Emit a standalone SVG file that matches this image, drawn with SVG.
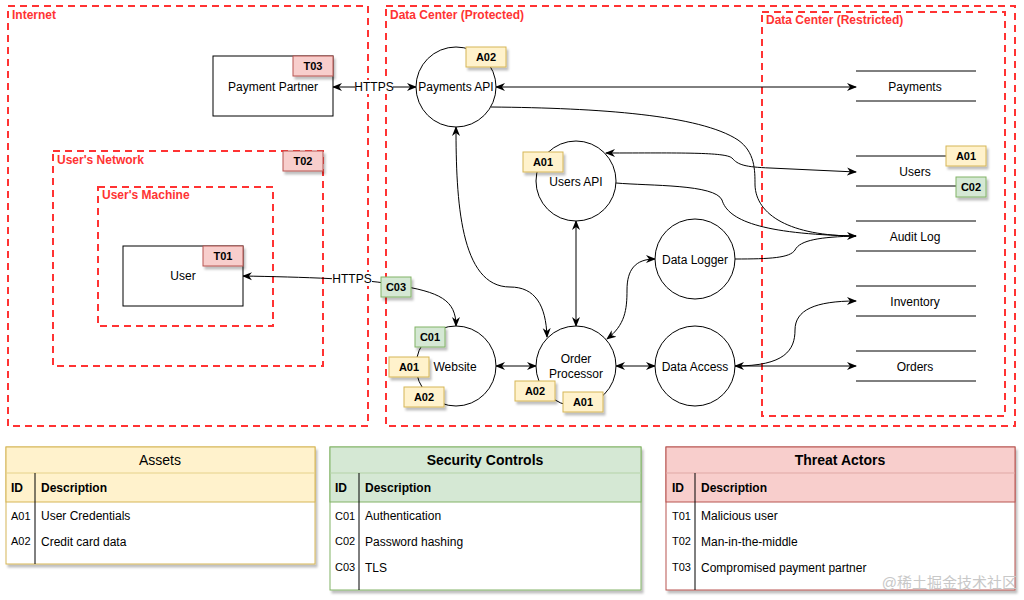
<svg xmlns="http://www.w3.org/2000/svg" width="1024" height="600" viewBox="0 0 1024 600">
<style>
text{font-family:"Liberation Sans",Arial,sans-serif;fill:#000}
.zone{fill:none;stroke:#FF3333;stroke-width:2;stroke-dasharray:7 5}
.zl{font-size:12px;font-weight:bold;fill:#FF3333}
.node{fill:#fff;stroke:#000;stroke-width:1}
.lbl{font-size:12px;text-anchor:middle;dominant-baseline:central}
.tag{stroke-width:1;filter:url(#sh)}
.ta{fill:#fff2cc;stroke:#d6b656}
.tc{fill:#d5e8d4;stroke:#82b366}
.tt{fill:#f8cecc;stroke:#b85450}
.tagt{font-size:11px;font-weight:bold;text-anchor:middle;dominant-baseline:central}
.edge{fill:none;stroke:#000;stroke-width:1;marker-start:url(#arr);marker-end:url(#arr)}
.one{fill:none;stroke:#000;stroke-width:1}
.store{stroke:#000;stroke-width:1}
.th{font-size:14px;text-anchor:middle}
.hd{font-size:12px;font-weight:bold}
.id{font-size:11px}
.ds{font-size:12px}
</style>
<defs>
<marker id="arr" viewBox="0 0 10 10" refX="9" refY="5" markerWidth="10" markerHeight="10" markerUnits="userSpaceOnUse" orient="auto-start-reverse">
<path d="M0,1 L10,5 L0,9 L3,5 z" fill="#000"/>
</marker>
<marker id="arre" viewBox="0 0 10 10" refX="9" refY="5" markerWidth="10" markerHeight="10" markerUnits="userSpaceOnUse" orient="auto">
<path d="M0,1 L10,5 L0,9 L3,5 z" fill="#000"/>
</marker>
<filter id="sh" x="-20%" y="-20%" width="150%" height="160%">
<feDropShadow dx="2" dy="3" stdDeviation="0.8" flood-color="#000" flood-opacity="0.25"/>
</filter>
</defs>
<rect width="1024" height="600" fill="#fff"/>

<g id="zones">
<rect class="zone" x="8" y="6" width="360" height="420"/>
<text class="zl" x="12" y="19">Internet</text>
<rect class="zone" x="386" y="6" width="629" height="420"/>
<text class="zl" x="390" y="19">Data Center (Protected)</text>
<rect class="zone" x="762" y="12" width="243" height="404"/>
<text class="zl" x="766" y="24">Data Center (Restricted)</text>
<rect class="zone" x="53" y="151" width="270" height="215"/>
<text class="zl" x="57" y="164">User's Network</text>
<rect class="zone" x="98" y="187" width="175" height="139"/>
<text class="zl" x="102" y="199">User's Machine</text>
</g>

<g id="connectors">
<path class="edge" d="M333,87 L416,87"/>
<rect x="355" y="80" width="38" height="14" fill="#fff"/>
<text class="lbl" x="374" y="87">HTTPS</text>
<path class="edge" d="M496,87 L856,87"/>
<path class="one" marker-end="url(#arre)" d="M491,107 C600,108 700,115 738,140 C755,152 755,170 755,185 C756,215 790,236 856,236"/>
<path class="edge" d="M606,153 C680,153 725,152 732,158 C738,165 745,167 770,168 L856,172"/>
<path class="one" d="M616,183 C650,186 715,184 722,200 C728,220 760,234 856,236"/>
<path class="one" d="M735,259 C770,259 790,258 795,250 C800,240 820,237 856,236"/>
<path class="edge" d="M456,127 C456,200 460,287 510,287 C535,287 546,305 547,337"/>
<path class="edge" d="M576,221 L576,326"/>
<path class="edge" d="M607,339 C625,325 627,310 627,290 C627,270 635,259 655,259"/>
<path class="edge" d="M496,366 L536,366"/>
<path class="edge" d="M616,366 L655,366"/>
<path class="edge" d="M735,366 L856,366"/>
<path class="one" marker-end="url(#arre)" d="M735,366 C785,366 795,350 795,330 C795,310 815,301 856,301"/>
<path class="edge" d="M243,276 C300,277 370,279 396,285 C440,292 456,300 456,326"/>
<rect x="332" y="272" width="40" height="14" fill="#fff"/>
<text class="lbl" x="352" y="279">HTTPS</text>
</g>

<g id="payment-partner">
<rect class="node" x="213" y="56" width="120" height="60"/>
<text class="lbl" x="273" y="87">Payment Partner</text>
<rect class="tag tt" x="293" y="56" width="40" height="20"/>
<text class="tagt" x="313" y="66">T03</text>
</g>

<g id="users-network-tag">
<rect class="tag tt" x="283" y="151" width="40" height="20"/>
<text class="tagt" x="303" y="161">T02</text>
</g>

<g id="user">
<rect class="node" x="123" y="246" width="120" height="60"/>
<text class="lbl" x="183" y="276">User</text>
<rect class="tag tt" x="203" y="246" width="40" height="20"/>
<text class="tagt" x="223" y="256">T01</text>
</g>

<g id="payments-api">
<circle class="node" cx="456" cy="87" r="40"/>
<text class="lbl" x="456" y="87">Payments API</text>
<rect class="tag ta" x="466" y="47" width="40" height="20"/>
<text class="tagt" x="486" y="57">A02</text>
</g>

<g id="users-api">
<circle class="node" cx="576" cy="181" r="40"/>
<text class="lbl" x="576" y="182">Users API</text>
<rect class="tag ta" x="523" y="152" width="40" height="20"/>
<text class="tagt" x="543" y="162">A01</text>
</g>

<g id="data-logger">
<circle class="node" cx="695" cy="259" r="40"/>
<text class="lbl" x="695" y="260">Data Logger</text>
</g>

<g id="website">
<circle class="node" cx="456" cy="366" r="40"/>
<text class="lbl" x="455" y="367">Website</text>
<rect class="tag tc" x="415" y="327" width="30" height="20"/>
<text class="tagt" x="430" y="337">C01</text>
<rect class="tag ta" x="389" y="357" width="40" height="20"/>
<text class="tagt" x="409" y="367">A01</text>
<rect class="tag ta" x="404" y="387" width="40" height="20"/>
<text class="tagt" x="424" y="397">A02</text>
</g>

<g id="c03-tag">
<rect class="tag tc" x="381" y="277" width="30" height="20"/>
<text class="tagt" x="396" y="287">C03</text>
</g>

<g id="order-processor">
<circle class="node" cx="576" cy="366" r="40"/>
<text class="lbl" x="576" y="359">Order</text>
<text class="lbl" x="576" y="374">Processor</text>
<rect class="tag ta" x="515" y="381" width="40" height="20"/>
<text class="tagt" x="535" y="391">A02</text>
<rect class="tag ta" x="563" y="392" width="40" height="20"/>
<text class="tagt" x="583" y="402">A01</text>
</g>

<g id="data-access">
<circle class="node" cx="695" cy="366" r="40"/>
<text class="lbl" x="695" y="367">Data Access</text>
</g>

<g id="store-payments">
<line class="store" x1="856" y1="71" x2="976" y2="71"/>
<line class="store" x1="856" y1="101" x2="976" y2="101"/>
<text class="lbl" x="915" y="87">Payments</text>
</g>
<g id="store-users">
<line class="store" x1="856" y1="156" x2="976" y2="156"/>
<line class="store" x1="856" y1="186" x2="976" y2="186"/>
<text class="lbl" x="915" y="172">Users</text>
<rect class="tag ta" x="946" y="146" width="40" height="20"/>
<text class="tagt" x="966" y="156">A01</text>
<rect class="tag tc" x="956" y="177" width="30" height="20"/>
<text class="tagt" x="971" y="187">C02</text>
</g>
<g id="store-audit">
<line class="store" x1="856" y1="221" x2="976" y2="221"/>
<line class="store" x1="856" y1="251" x2="976" y2="251"/>
<text class="lbl" x="915" y="237">Audit Log</text>
</g>
<g id="store-inventory">
<line class="store" x1="856" y1="286" x2="976" y2="286"/>
<line class="store" x1="856" y1="316" x2="976" y2="316"/>
<text class="lbl" x="915" y="302">Inventory</text>
</g>
<g id="store-orders">
<line class="store" x1="856" y1="351" x2="976" y2="351"/>
<line class="store" x1="856" y1="381" x2="976" y2="381"/>
<text class="lbl" x="915" y="367">Orders</text>
</g>

<g id="table-assets">
<rect x="6" y="447" width="309" height="117" fill="#fff" stroke="#d6b656" filter="url(#sh)"/>
<rect x="6" y="447" width="309" height="55" fill="#fff2cc" stroke="#d6b656"/>
<line x1="6" y1="473" x2="315" y2="473" stroke="#e6d28a"/>
<line x1="35" y1="473" x2="35" y2="564" stroke="#000"/>
<text class="th" x="160" y="465">Assets</text>
<text class="hd" x="11" y="492">ID</text>
<text class="hd" x="41" y="492">Description</text>
<text class="id" x="11" y="520">A01</text>
<text class="ds" x="41" y="520">User Credentials</text>
<text class="id" x="11" y="545">A02</text>
<text class="ds" x="41" y="546">Credit card data</text>
</g>

<g id="table-controls">
<rect x="330" y="447" width="311" height="143" fill="#fff" stroke="#82b366" filter="url(#sh)"/>
<rect x="330" y="447" width="311" height="55" fill="#d5e8d4" stroke="#82b366"/>
<line x1="330" y1="473" x2="641" y2="473" stroke="#b5d3a8"/>
<line x1="359" y1="473" x2="359" y2="590" stroke="#000"/>
<text class="th" x="485" y="465" font-weight="bold">Security Controls</text>
<text class="hd" x="335" y="492">ID</text>
<text class="hd" x="365" y="492">Description</text>
<text class="id" x="335" y="520">C01</text>
<text class="ds" x="365" y="520">Authentication</text>
<text class="id" x="335" y="545">C02</text>
<text class="ds" x="365" y="546">Password hashing</text>
<text class="id" x="335" y="571">C03</text>
<text class="ds" x="365" y="572">TLS</text>
</g>

<g id="table-threats">
<rect x="666" y="447" width="349" height="143" fill="#fff" stroke="#b85450" filter="url(#sh)"/>
<rect x="666" y="447" width="349" height="55" fill="#f8cecc" stroke="#b85450"/>
<line x1="666" y1="473" x2="1015" y2="473" stroke="#e0a9a6"/>
<line x1="695" y1="473" x2="695" y2="590" stroke="#000"/>
<text class="th" x="840" y="465" font-weight="bold">Threat Actors</text>
<text class="hd" x="672" y="492">ID</text>
<text class="hd" x="701" y="492">Description</text>
<text class="id" x="672" y="520">T01</text>
<text class="ds" x="701" y="520">Malicious user</text>
<text class="id" x="672" y="545">T02</text>
<text class="ds" x="701" y="546">Man-in-the-middle</text>
<text class="id" x="672" y="571">T03</text>
<text class="ds" x="701" y="572">Compromised payment partner</text>
</g>

<text x="1017" y="588" text-anchor="end" font-size="15" style="font-family:'Liberation Sans','Noto Sans CJK SC',sans-serif;fill:#c8c8c8">@稀土掘金技术社区</text>
</svg>
